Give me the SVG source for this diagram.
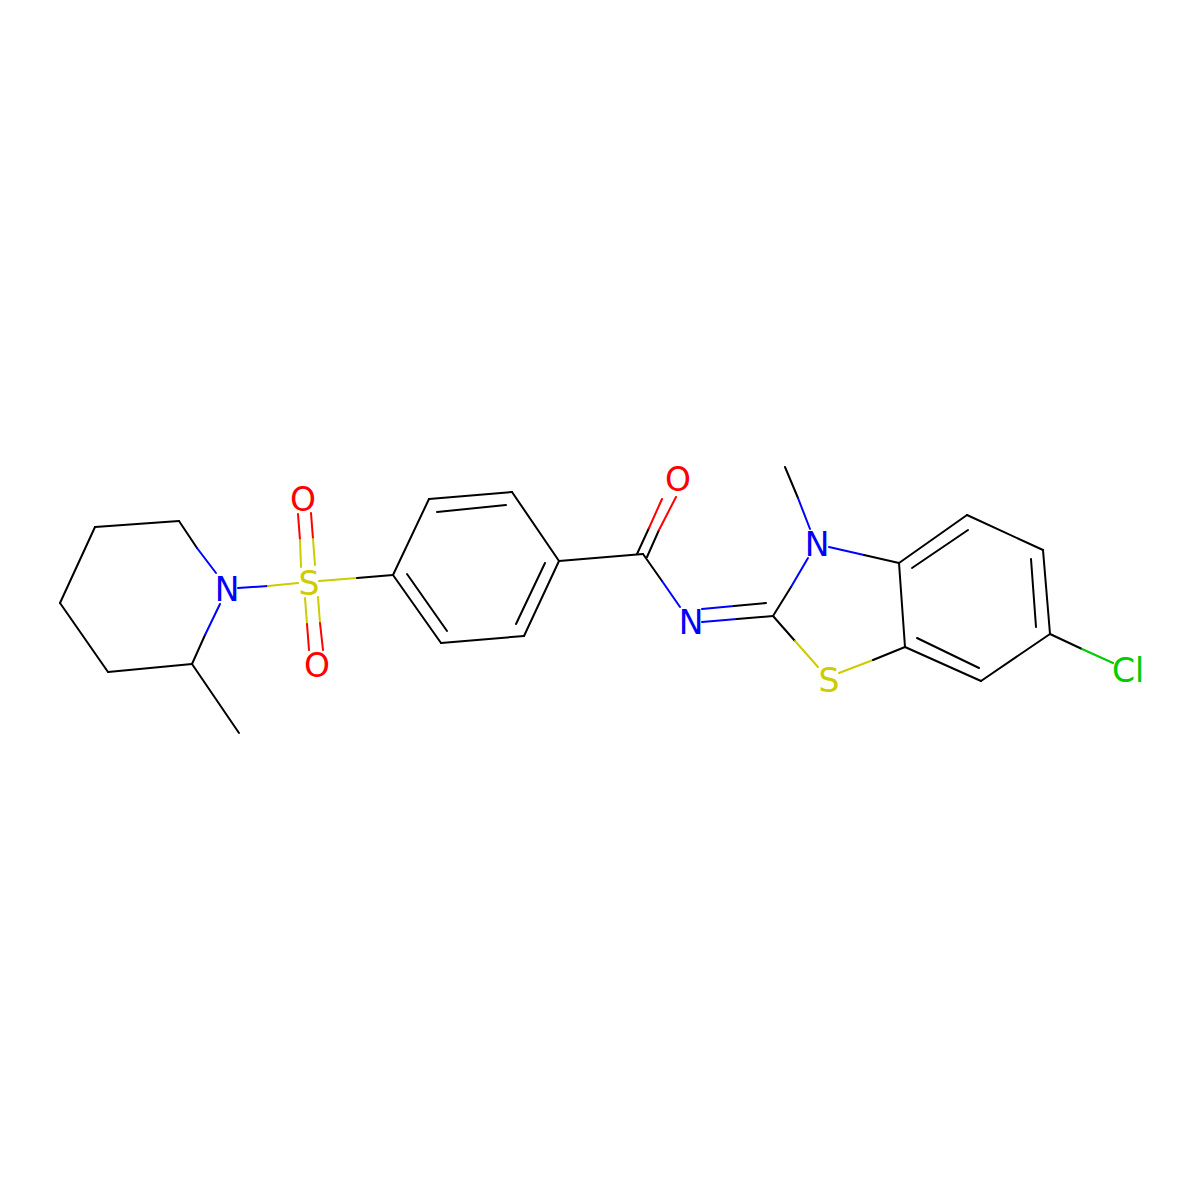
<svg xmlns="http://www.w3.org/2000/svg" width="1200" height="1200" viewBox="0 0 1200 1200">
<style>
line{stroke-width:2;stroke-linecap:round}
.k{stroke:#000}.b{stroke:#0000FF}.r{stroke:#FF0000}.y{stroke:#CCCC00}.g{stroke:#00CC00}
text{font-family:"DejaVu Sans",sans-serif;font-size:33px;text-anchor:middle}
</style>
<rect width="1200" height="1200" fill="#fff"/>
<g id="bonds">
<!-- piperidine -->
<line class="k" x1="95" y1="527" x2="179" y2="521"/>
<line class="k" x1="95" y1="527" x2="60" y2="603"/>
<line class="k" x1="60" y1="603" x2="108" y2="672"/>
<line class="k" x1="108" y1="672" x2="192" y2="664"/>
<line class="k" x1="192" y1="664" x2="239" y2="733"/>
<line class="k" x1="179" y1="521" x2="197" y2="548"/>
<line class="b" x1="197" y1="548" x2="216" y2="573"/>
<line class="k" x1="192" y1="664" x2="205" y2="635"/>
<line class="b" x1="205" y1="635" x2="220" y2="604"/>
<!-- N-S -->
<line class="b" x1="238" y1="588" x2="268" y2="586"/>
<line class="y" x1="268" y1="586" x2="298" y2="583"/>
<!-- S-C -->
<line class="y" x1="319" y1="581" x2="357" y2="578"/>
<line class="k" x1="357" y1="578" x2="393" y2="575"/>
<!-- S=O top -->
<line class="r" x1="298" y1="514" x2="300" y2="540"/>
<line class="y" x1="300" y1="540" x2="301" y2="567"/>
<line class="r" x1="311" y1="513" x2="313" y2="539"/>
<line class="y" x1="313" y1="539" x2="315" y2="565"/>
<!-- S=O bottom -->
<line class="y" x1="305" y1="598" x2="307" y2="624"/>
<line class="r" x1="307" y1="624" x2="309" y2="650"/>
<line class="y" x1="318" y1="597" x2="320" y2="623"/>
<line class="r" x1="320" y1="623" x2="323" y2="650"/>
<!-- benzene -->
<line class="k" x1="393" y1="575" x2="429" y2="499"/>
<line class="k" x1="429" y1="499" x2="512" y2="492"/>
<line class="k" x1="512" y1="492" x2="559" y2="561"/>
<line class="k" x1="559" y1="561" x2="524" y2="636"/>
<line class="k" x1="524" y1="636" x2="441" y2="643"/>
<line class="k" x1="441" y1="643" x2="393" y2="575"/>
<line class="k" x1="437" y1="512" x2="506" y2="505"/>
<line class="k" x1="545" y1="563" x2="516" y2="624"/>
<line class="k" x1="407" y1="574" x2="447" y2="631"/>
<!-- carbonyl -->
<line class="k" x1="559" y1="561" x2="643" y2="554"/>
<line class="k" x1="637" y1="554" x2="649" y2="528"/>
<line class="r" x1="649" y1="528" x2="662" y2="499"/>
<line class="k" x1="647" y1="557" x2="659" y2="530"/>
<line class="r" x1="659" y1="530" x2="676" y2="497"/>
<line class="k" x1="643" y1="554" x2="662" y2="581"/>
<line class="b" x1="662" y1="581" x2="680" y2="607"/>
<!-- N=C -->
<line class="b" x1="702" y1="609" x2="734" y2="606"/>
<line class="k" x1="734" y1="606" x2="766" y2="603"/>
<line class="b" x1="702" y1="622" x2="737" y2="619"/>
<line class="k" x1="737" y1="619" x2="773" y2="616"/>
<!-- thiazole -->
<line class="k" x1="785" y1="467" x2="798" y2="498"/>
<line class="b" x1="798" y1="498" x2="810" y2="529"/>
<line class="k" x1="773" y1="616" x2="791" y2="587"/>
<line class="b" x1="791" y1="587" x2="808" y2="558"/>
<line class="b" x1="829" y1="547" x2="864" y2="555"/>
<line class="k" x1="864" y1="555" x2="899" y2="563"/>
<line class="k" x1="773" y1="616" x2="795" y2="641"/>
<line class="y" x1="795" y1="641" x2="818" y2="667"/>
<line class="y" x1="839" y1="673" x2="873" y2="660"/>
<line class="k" x1="873" y1="660" x2="905" y2="647"/>
<!-- benzo ring -->
<line class="k" x1="899" y1="563" x2="967" y2="515"/>
<line class="k" x1="967" y1="515" x2="1043" y2="550"/>
<line class="k" x1="1043" y1="550" x2="1050" y2="634"/>
<line class="k" x1="1050" y1="634" x2="981" y2="681"/>
<line class="k" x1="981" y1="681" x2="905" y2="647"/>
<line class="k" x1="905" y1="647" x2="899" y2="563"/>
<line class="k" x1="912" y1="568" x2="968" y2="530"/>
<line class="k" x1="1031" y1="559" x2="1036" y2="627"/>
<line class="k" x1="917" y1="638" x2="979" y2="668"/>
<!-- Cl -->
<line class="k" x1="1050" y1="634" x2="1082" y2="649"/>
<line class="g" x1="1082" y1="649" x2="1113" y2="663"/>
</g>
<g id="atoms">
<text id="N1" x="227" y="601" fill="#0000FF">N</text>
<text id="S1" x="309" y="595" fill="#CCCC00">S</text>
<text id="O1" x="303" y="511" fill="#FF0000">O</text>
<text id="O2" x="317" y="677" fill="#FF0000">O</text>
<text id="O3" x="678" y="491" fill="#FF0000">O</text>
<text id="N2" x="691" y="634" fill="#0000FF">N</text>
<text id="N3" x="817" y="556" fill="#0000FF">N</text>
<text id="S2" x="829" y="692" fill="#CCCC00">S</text>
<text id="Cl" x="1128" y="682" fill="#00CC00">Cl</text>
</g>
</svg>
